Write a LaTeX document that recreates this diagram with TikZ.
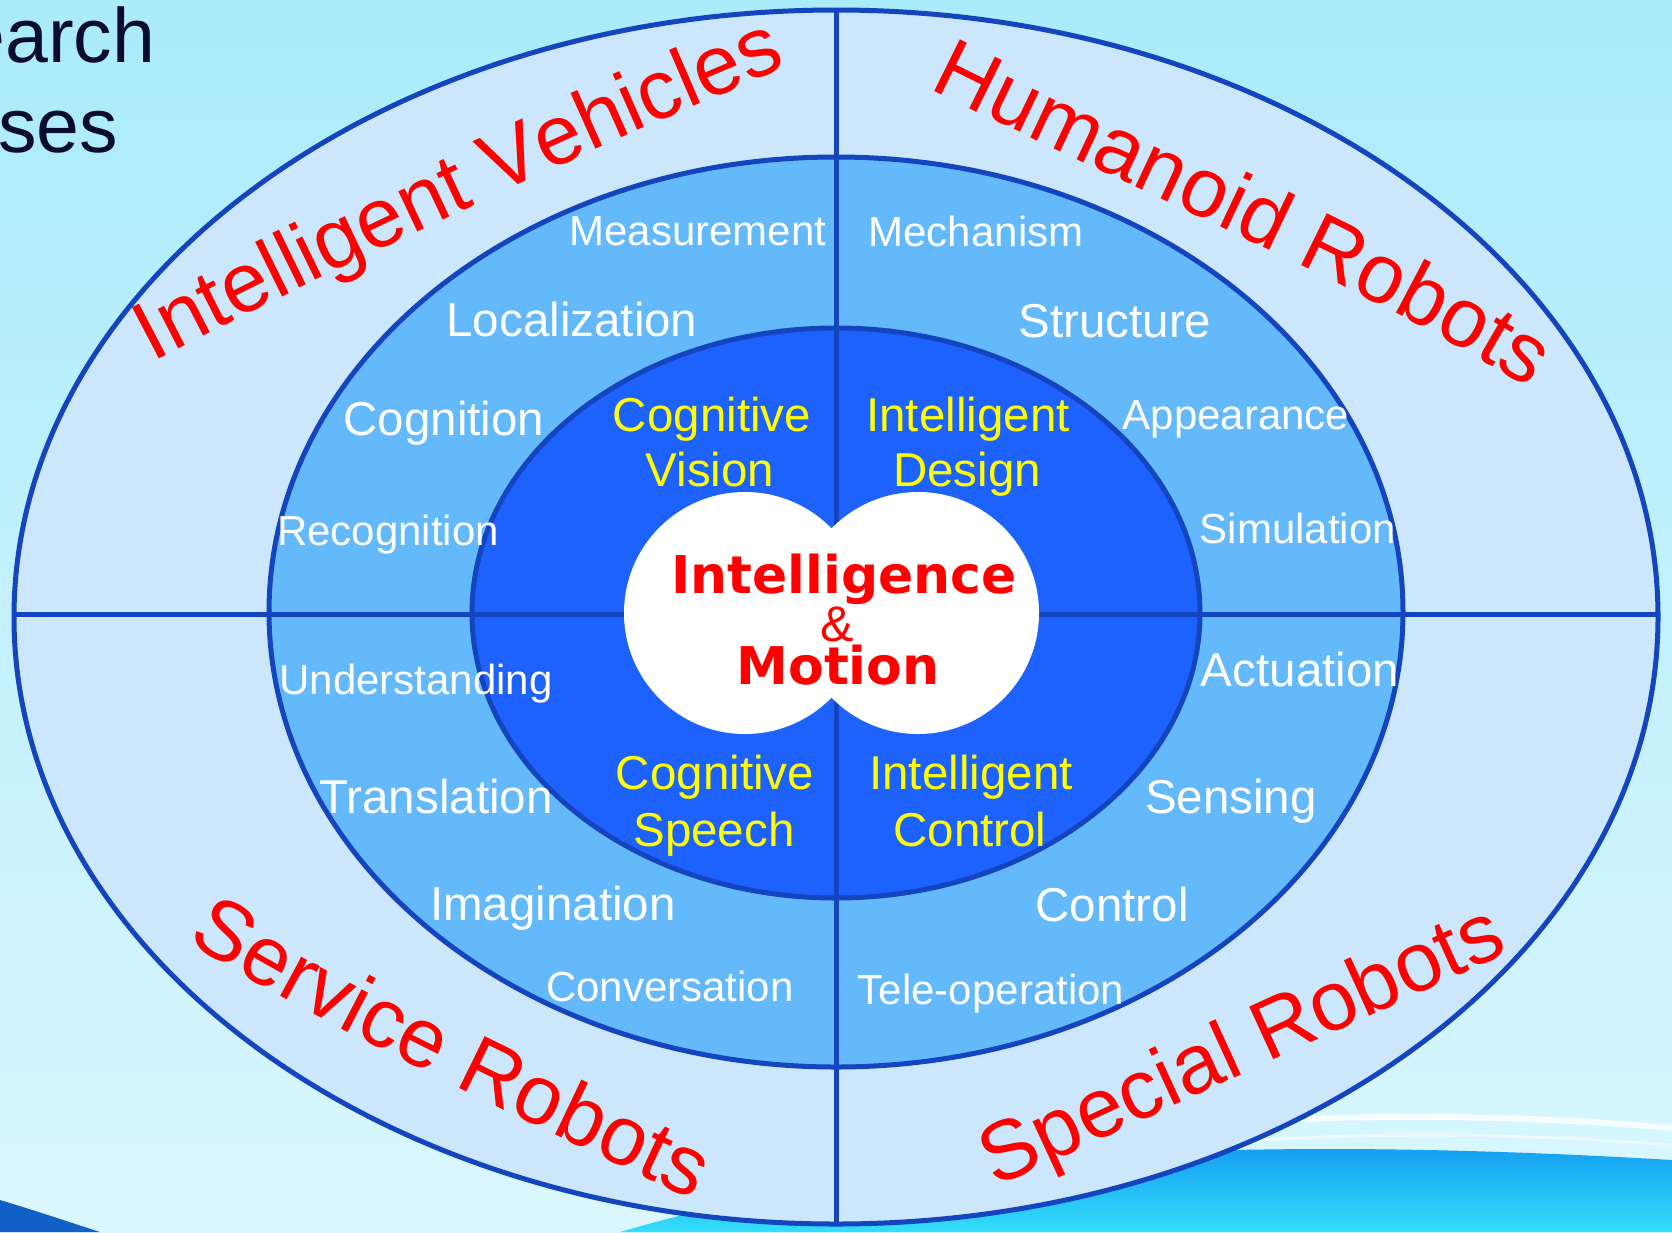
\documentclass[tikz,border=0pt]{standalone}
\usepackage{fontspec}
\setmainfont{Liberation Sans}
\newfontfamily\heavyfont{DejaVu Sans}
\usetikzlibrary{decorations.text}
\definecolor{bgtop}{RGB}{170,235,252}
\definecolor{bgbot}{RGB}{218,247,253}
\definecolor{ringout}{RGB}{204,231,252}
\definecolor{ringmid}{RGB}{99,185,250}
\definecolor{ringin}{RGB}{30,98,254}
\definecolor{rim}{RGB}{20,68,190}
\definecolor{navy}{RGB}{10,12,45}
\definecolor{wavedeep}{RGB}{16,150,240}
\definecolor{wavelight}{RGB}{52,222,250}
\definecolor{lblyellow}{RGB}{255,255,0}
\newcommand\sizeS{\fontsize{42}{50}\selectfont}
\newcommand\sizeL{\fontsize{47.5}{56}\selectfont}
\newcommand\sizeArc{\fontsize{84}{96}\selectfont}
\begin{document}
\begin{tikzpicture}[x=1pt,y=-1pt,
  every node/.style={inner sep=0pt, outer sep=0pt},
  lblsmall/.style={anchor=base, text=white, font=\sizeS},
  lbllarge/.style={anchor=base, text=white, font=\sizeL},
  lblinner/.style={anchor=base, text=lblyellow, font=\sizeL},
  core/.style={anchor=base, text=red, font=\heavyfont\bfseries\fontsize{52}{60}\selectfont},
  rimline/.style={draw=rim, line width=5pt},
  arctext/.style={decorate, decoration={text along path, text align=center, text color=red, text={|\sizeArc|#1}}}
]
\useasboundingbox (0,0) rectangle (1672,1232);
% background
\shade[top color=bgtop, bottom color=bgbot] (0,0) rectangle (1672,1232);
\shade[top color=wavedeep, bottom color=wavelight] (620,1232) .. controls (900,1150) and (1250,1135) .. (1672,1160) -- (1672,1232) -- cycle;
\draw[white, line width=6pt, opacity=0.8] (950,1150) .. controls (1200,1115) and (1450,1108) .. (1672,1128);
\draw[white, line width=3pt, opacity=0.5] (1000,1165) .. controls (1250,1132) and (1450,1128) .. (1672,1145);
\fill[rim!85!cyan] (0,1200) .. controls (40,1212) and (75,1224) .. (100,1232) -- (0,1232) -- cycle;
% title fragments
\node[anchor=base east, text=navy, font=\fontsize{77}{90}\selectfont] (title1) at (155,62) {earch};
\node[anchor=base east, text=navy, font=\fontsize{77}{90}\selectfont] (title2) at (118,152) {ses};
% rings
\fill[ringout] (836,617) ellipse[x radius=822pt, y radius=607pt];
\fill[ringmid] (836,612) ellipse[x radius=567pt, y radius=455pt];
\fill[ringin] (836,613) ellipse[x radius=364pt, y radius=285pt];
\draw[rimline] (14,614) -- (1657,614);
\draw[rimline] (836,10) -- (836,1224);
\draw[rimline] (836,617) ellipse[x radius=822pt, y radius=607pt];
\draw[rimline] (836,612) ellipse[x radius=567pt, y radius=455pt];
\draw[rimline] (836,613) ellipse[x radius=364pt, y radius=285pt];
% core
\fill[white] (745,613) circle[radius=121pt];
\fill[white] (918,613) circle[radius=121pt];
\node[core] (core1) at (844,593) {Intelligence};
\node[anchor=base, text=red, font=\fontsize{50}{56}\selectfont] (core2) at (837,641) {\&};
\node[core] (core3) at (838,684) {Motion};
% inner ring labels
\node[lblinner] (cv1) at (712,431) {Cognitive};
\node[lblinner] (cv2) at (710,486) {Vision};
\node[lblinner] (id1) at (968,431) {Intelligent};
\node[lblinner] (id2) at (967,486) {Design};
\node[lblinner] (cs1) at (715,789) {Cognitive};
\node[lblinner] (cs2) at (714,846) {Speech};
\node[lblinner] (ic1) at (971,789) {Intelligent};
\node[lblinner] (ic2) at (970,846) {Control};
% middle ring labels
\node[lblsmall] (m1) at (698,245) {Measurement};
\node[lbllarge] (m2) at (572,336) {Localization};
\node[lbllarge] (m3) at (444,435) {Cognition};
\node[lblsmall] (m4) at (388,545) {Recognition};
\node[lblsmall] (m5) at (976,246) {Mechanism};
\node[lbllarge] (m6) at (1115,337) {Structure};
\node[lblsmall] (m7) at (1236,429) {Appearance};
\node[lblsmall] (m8) at (1298,543) {Simulation};
\node[lblsmall] (m9) at (416,694) {Understanding};
\node[lbllarge] (m10) at (436,813) {Translation};
\node[lbllarge] (m11) at (553,920) {Imagination};
\node[lblsmall] (m12) at (670,1001) {Conversation};
\node[lbllarge] (m13) at (1300,686) {Actuation};
\node[lbllarge] (m14) at (1231,813) {Sensing};
\node[lbllarge] (m15) at (1112,921) {Control};
\node[lblsmall] (m16) at (991,1004) {Tele-operation};
% outer ring curved titles
\path[arctext={Intelligent Vehicles}] (150,364) .. controls (318,275) and (614,137) .. (790,66);
\path[arctext={Humanoid Robots}] (925,86) .. controls (1085,168) and (1382,293) .. (1533,391);
\path[arctext={Service Robots}] (186,941) .. controls (313,1021) and (558,1137) .. (694,1200);
\path[arctext={Special Robots}] (995,1188) .. controls (1168,1108) and (1338,1030) .. (1510,952);
\end{tikzpicture}
\end{document}
